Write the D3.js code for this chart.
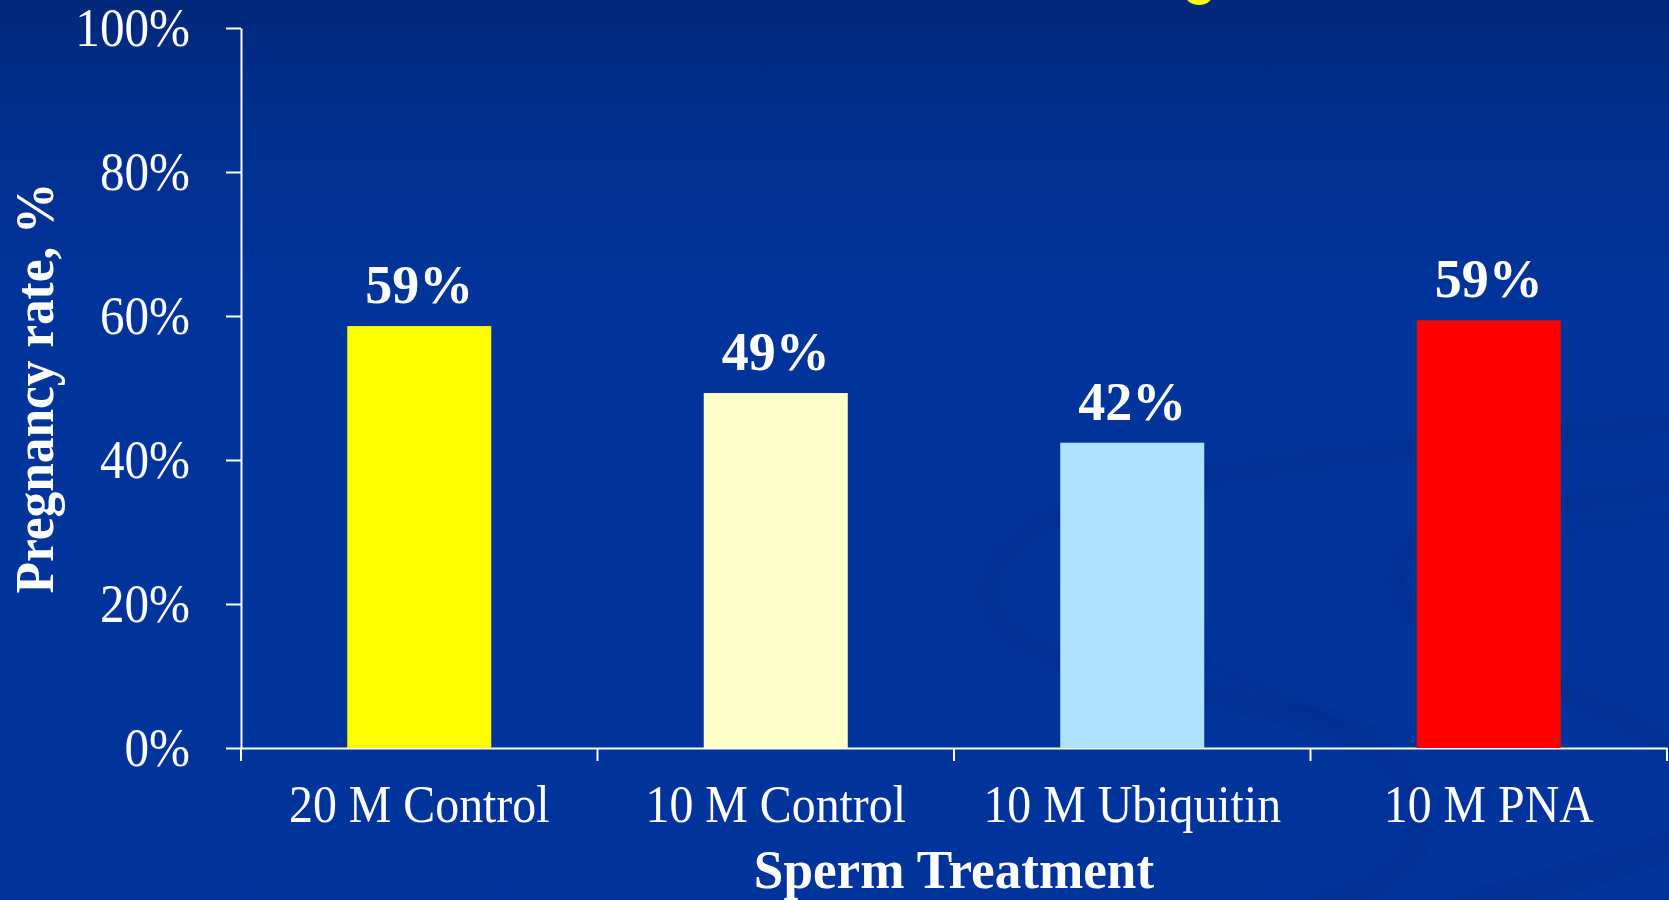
<!DOCTYPE html>
<html>
<head>
<meta charset="utf-8">
<script src="https://cdn.jsdelivr.net/npm/d3@7/dist/d3.min.js"></script>
<style>
  html, body { margin: 0; padding: 0; background: #00339b; overflow: hidden; }
  svg { display: block; }
  text { font-family: "Liberation Serif", "Times New Roman", Times, serif; fill: #ffffff; }
</style>
</head>
<body>
<svg id="chart" width="1669" height="900"></svg>
<script>
// Pregnancy rate by sperm treatment
const categories = ["20 M Control", "10 M Control", "10 M Ubiquitin", "10 M PNA"];
const pregnancyRate = [58.6, 49.3, 42.4, 59.4];
const barColors = ["#ffff00", "#ffffcc", "#aee2ff", "#ff0000"];
const yTicks = [0, 20, 40, 60, 80, 100];
const yTitle = "Pregnancy rate, %";
const xTitle = "Sperm Treatment";

const W = 1669, H = 900;
const margin = { top: 28, right: 2, bottom: 152, left: 241 };
const plotW = W - margin.left - margin.right;
const plotH = H - margin.top - margin.bottom;

const svg = d3.select("#chart");

// slide background: deep blue with a darker band along the top
const defs = svg.append("defs");
const bg = defs.append("linearGradient").attr("id", "bg")
  .attr("x1", 0).attr("y1", 0).attr("x2", 0).attr("y2", 1);
bg.append("stop").attr("offset", 0).attr("stop-color", "#01287a");
bg.append("stop").attr("offset", 0.14).attr("stop-color", "#002f8d");
bg.append("stop").attr("offset", 0.35).attr("stop-color", "#00349b");
bg.append("stop").attr("offset", 1).attr("stop-color", "#00339b");
defs.append("filter").attr("id", "soft")
  .append("feGaussianBlur").attr("stdDeviation", 2.5);

svg.append("rect").attr("width", W).attr("height", H).attr("fill", "url(#bg)");

// faint swirl ornaments of the slide template
const swirls = [
  { d: "M 1669,425 C 1500,438 1250,460 1100,500 C 1000,530 972,580 998,620 C 1035,668 1150,682 1250,702 C 1380,732 1442,790 1412,850 C 1394,880 1352,895 1320,905", w: 20 },
  { d: "M 1669,488 C 1580,502 1452,510 1412,545 C 1380,582 1398,622 1470,652 C 1560,690 1640,722 1669,748", w: 18 },
  { d: "M 1669,515 C 1600,525 1540,532 1480,545", w: 8 },
  { d: "M 1470,905 C 1560,882 1620,862 1669,846", w: 22 },
  { d: "M 1060,590 C 1150,640 1260,690 1380,735", w: 6 }
];
svg.append("g").attr("filter", "url(#soft)")
  .selectAll("path").data(swirls).join("path")
  .attr("d", d => d.d)
  .attr("fill", "none")
  .attr("stroke", "#002b86")
  .attr("stroke-opacity", 0.35)
  .attr("stroke-width", d => d.w)
  .attr("stroke-linecap", "round");

// edge of the yellow title ornament peeking in at the top
svg.append("ellipse").attr("cx", 1199).attr("cy", -8).attr("rx", 15).attr("ry", 13)
  .attr("fill", "#ffff00");

const g = svg.append("g").attr("transform", `translate(${margin.left},${margin.top})`);

const x = d3.scaleBand().domain(categories).range([0, plotW]).paddingInner(0).paddingOuter(0);
const y = d3.scaleLinear().domain([0, 100]).range([plotH, 0]);
const barW = x.bandwidth() * 0.404;

// condense glyphs horizontally to the narrow face used on the slide
function condense(sel, k) {
  sel.each(function () {
    const w = this.getComputedTextLength();
    this.setAttribute("textLength", (w * k).toFixed(2));
    this.setAttribute("lengthAdjust", "spacingAndGlyphs");
  });
}

// y axis
const yAxis = g.append("g")
  .call(d3.axisLeft(y).tickValues(yTicks).tickFormat(d => d + "%")
    .tickSizeInner(15).tickSizeOuter(0).tickPadding(36));
yAxis.select(".domain").attr("stroke", "#ffffff").attr("stroke-width", 2);
yAxis.selectAll(".tick line").attr("stroke", "#ffffff").attr("stroke-width", 2);
yAxis.selectAll(".tick text")
  .attr("font-size", 54).attr("fill", "#ffffff").attr("dy", "0.33em")
  .style("font-family", "'Liberation Serif', 'Times New Roman', serif");
condense(yAxis.selectAll(".tick text"), 0.91);

// x axis: baseline with boundary ticks between categories
const xAxis = g.append("g").attr("transform", `translate(0,${plotH})`)
  .call(d3.axisBottom(x).tickSize(0).tickPadding(0).tickSizeOuter(0));
xAxis.select(".domain").attr("stroke", "#ffffff").attr("stroke-width", 2);
xAxis.selectAll(".tick text")
  .attr("font-size", 52).attr("fill", "#ffffff").attr("y", 74).attr("dy", 0)
  .style("font-family", "'Liberation Serif', 'Times New Roman', serif");
condense(xAxis.selectAll(".tick text"), 0.92);

const bounds = categories.map(c => x(c)).concat([x.range()[1]]);
xAxis.selectAll("line.bound").data(bounds).join("line")
  .attr("class", "bound")
  .attr("x1", d => d).attr("x2", d => d)
  .attr("y1", 0).attr("y2", 13)
  .attr("stroke", "#ffffff").attr("stroke-width", 2);

// bars
const data = categories.map((c, i) => ({ c, v: pregnancyRate[i], color: barColors[i] }));
g.selectAll("rect.bar").data(data).join("rect")
  .attr("class", "bar")
  .attr("x", d => x(d.c) + (x.bandwidth() - barW) / 2)
  .attr("width", barW)
  .attr("y", d => y(d.v))
  .attr("height", d => plotH - y(d.v))
  .attr("fill", d => d.color);

// value labels
const labels = g.selectAll("text.val").data(data).join("text")
  .attr("class", "val")
  .attr("x", d => x(d.c) + x.bandwidth() / 2)
  .attr("y", d => y(d.v) - 23)
  .attr("text-anchor", "middle")
  .attr("font-size", 54).attr("font-weight", "bold")
  .text(d => Math.round(d.v) + "%");
condense(labels, 1.0);

// axis titles
const xt = g.append("text")
  .attr("x", plotW / 2).attr("y", plotH + 140)
  .attr("text-anchor", "middle")
  .attr("font-size", 54).attr("font-weight", "bold")
  .text(xTitle);
condense(xt, 0.985);

const yt = svg.append("text")
  .attr("transform", `translate(53,${margin.top + plotH / 2}) rotate(-90)`)
  .attr("text-anchor", "middle")
  .attr("font-size", 54).attr("font-weight", "bold")
  .text(yTitle);
condense(yt, 0.95);
</script>
</body>
</html>
